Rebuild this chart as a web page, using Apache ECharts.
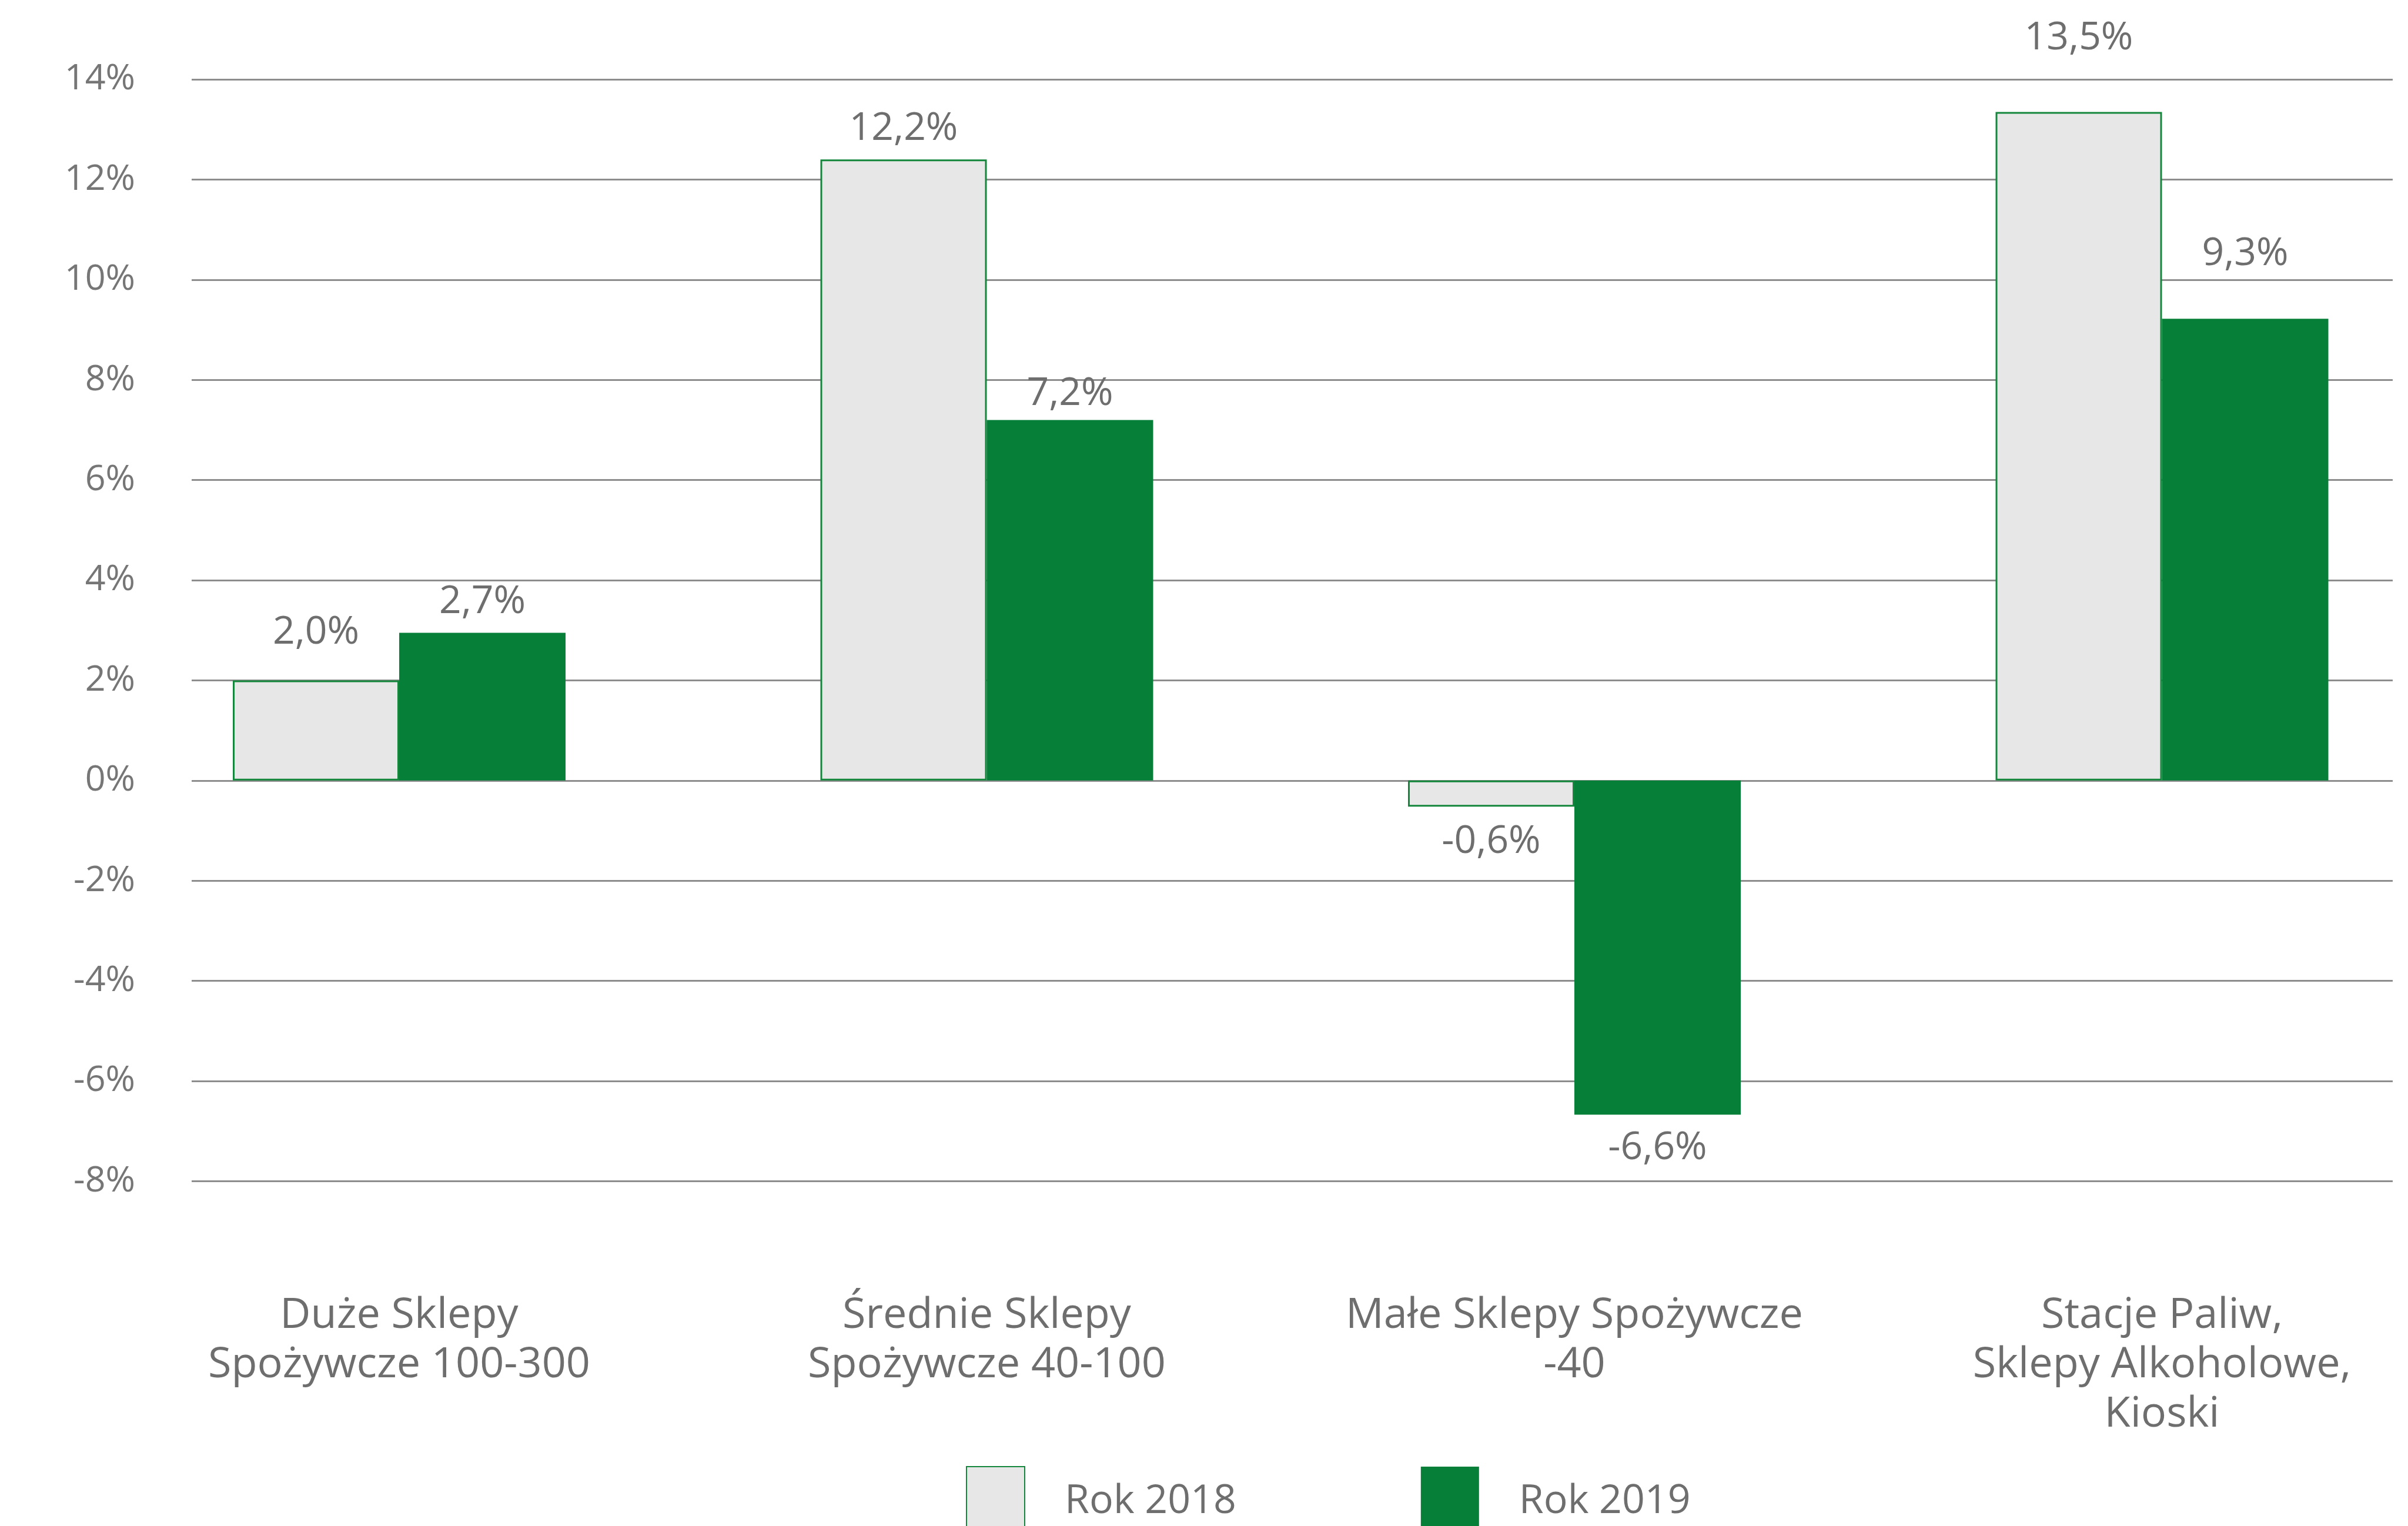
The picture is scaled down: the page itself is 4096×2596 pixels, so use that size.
<!DOCTYPE html>
<html>
<head>
<meta charset="utf-8">
<script src="https://cdn.jsdelivr.net/npm/echarts@6/dist/echarts.min.js"></script>
<style>
html,body{margin:0;padding:0;background:#fff;}
#chart{width:4096px;height:2596px;}
</style>
</head>
<body>
<div id="chart"></div>
<script>
// ---- data ----
const categories = [
  'Duże Sklepy\nSpożywcze 100-300',
  'Średnie Sklepy\nSpożywcze 40-100',
  'Małe Sklepy Spożywcze\n-40',
  'Stacje Paliw,\nSklepy Alkoholowe,\nKioski'
];
const seriesNames = ['Rok 2018', 'Rok 2019'];
// bar heights as drawn in the picture (%)
const values2018 = [2.0, 12.4, -0.52, 13.35];
const values2019 = [2.95, 7.2, -6.67, 9.22];
// data label texts as printed
const labels2018 = ['2,0%', '12,2%', '-0,6%', '13,5%'];
const labels2019 = ['2,7%', '7,2%', '-6,6%', '9,3%'];
const yTicks = { min: -8, max: 14, step: 2 };

// ---- styling / layout ----
const TXT = '#6e6e6e';
const FONT = '"Open Sans", "Noto Sans", sans-serif';
const GREEN = '#067f38';
const LIGHT = '#e6e7e6';
const BORDER = '#15873d';
const dist2018 = [48, 19, 27, 92];
const dist2019 = [19, 11, 24, 77];
// categories sit on every 3rd slot of a finer band axis
const SLOT_STEP = 3;
const NSLOTS = (categories.length - 1) * SLOT_STEP + 1;

const axisData = Array.from({ length: NSLOTS }, () => '');
categories.forEach((c, i) => { axisData[i * SLOT_STEP] = c; });

function buildData(vals, labels, dists) {
  const out = Array.from({ length: NSLOTS }, () => '-');
  vals.forEach((v, i) => {
    out[i * SLOT_STEP] = {
      value: v,
      label: {
        position: v >= 0 ? 'top' : 'bottom',
        distance: dists[i],
        formatter: labels[i]
      }
    };
  });
  return out;
}

const chart = echarts.init(document.getElementById('chart'));
const gridTop = 135, gridBottom = 586.5;
const bandW = 999.5 / SLOT_STEP;
const firstCenter = 679;
chart.setOption({
  backgroundColor: '#ffffff',
  animation: false,
  grid: [
    { left: 326, right: 26, top: gridTop, bottom: gridBottom },
    { left: firstCenter - bandW / 2, width: bandW * NSLOTS, top: gridTop, bottom: gridBottom }
  ],
  xAxis: [
    { gridIndex: 0, type: 'category', data: categories, show: false },
    {
      gridIndex: 1, type: 'category', data: axisData,
      axisLine: { show: false }, axisTick: { show: false },
      axisLabel: {
        interval: 0, margin: 187, fontSize: 72, lineHeight: 84,
        color: TXT, fontFamily: FONT, align: 'center'
      }
    }
  ],
  yAxis: [
    {
      gridIndex: 0, type: 'value', min: yTicks.min, max: yTicks.max, interval: yTicks.step,
      axisLine: { show: false }, axisTick: { show: false },
      axisLabel: { formatter: '{value}%', fontSize: 61, color: '#767676', fontFamily: FONT, margin: 96 },
      splitLine: { lineStyle: { color: '#8d8d8d', width: 3 } }
    },
    {
      gridIndex: 1, type: 'value', min: yTicks.min, max: yTicks.max, interval: yTicks.step,
      show: false, splitLine: { show: false }
    }
  ],
  legend: {
    data: seriesNames,
    left: 1638, top: 2489,
    icon: 'rect', itemWidth: 99, itemHeight: 120, itemGap: 314,
    textStyle: { fontSize: 68, color: TXT, fontFamily: FONT, padding: [0, 0, 0, 63] }
  },
  series: [
    {
      name: seriesNames[0], type: 'bar', xAxisIndex: 1, yAxisIndex: 1, clip: false,
      data: buildData(values2018, labels2018, dist2018),
      barWidth: 283, barGap: '0%',
      itemStyle: { color: LIGHT, borderColor: BORDER, borderWidth: 3 },
      label: { show: true, fontSize: 66, lineHeight: 66, color: TXT, fontFamily: FONT }
    },
    {
      name: seriesNames[1], type: 'bar', xAxisIndex: 1, yAxisIndex: 1, clip: false,
      data: buildData(values2019, labels2019, dist2019),
      barWidth: 283, barGap: '0%',
      itemStyle: { color: GREEN },
      label: { show: true, fontSize: 66, lineHeight: 66, color: TXT, fontFamily: FONT }
    }
  ]
});
</script>
</body>
</html>
